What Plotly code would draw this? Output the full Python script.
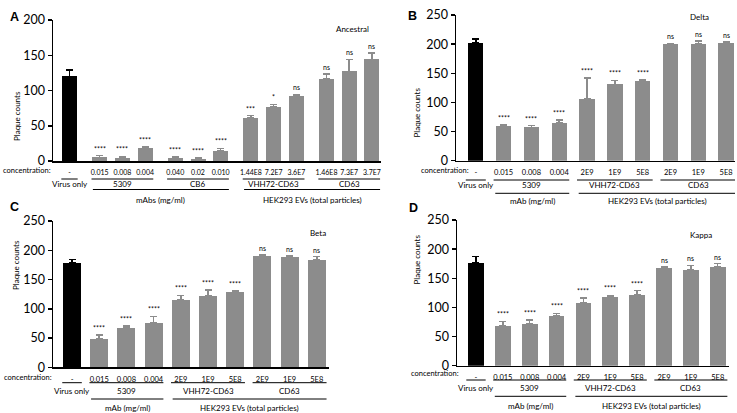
import plotly.graph_objects as go

W, H = 737, 413
FONT = "Lato, Open Sans, sans-serif"
GRAY = "#8c8c8c"

# ---------------- data ----------------
# Panel A (Ancestral)
a_ticks = ["-", "0.015", "0.008", "0.004", "0.040", "0.02", "0.010",
           "1.44E8", "7.2E7", "3.6E7", "1.46E8", "7.3E7", "3.7E7"]
a_member = [0, 1, 1, 1, 2, 2, 2, 3, 3, 3, 4, 4, 4]
a_values = [120, 5, 4.5, 18, 4.5, 3.5, 14.5, 61, 77, 92, 117, 127, 144]
a_errors = [9, 2.5, 2, 2, 1, 1, 3.5, 3.5, 3.5, 2.5, 6.5, 17, 9]
a_sig = ["", "****", "****", "****", "****", "****", "****", "***", "*", "ns", "ns", "ns", "ns"]
a_groups = ["Virus only", "5309", "CB6", "VHH72-CD63", "CD63"]
a_supers = ["mAbs (mg/ml)", "HEK293 EVs (total particles)"]
a_super_members = [[1, 2], [3, 4]]

# shared layout of panels B, C, D
bcd_ticks = ["-", "0.015", "0.008", "0.004", "2E9", "1E9", "5E8", "2E9", "1E9", "5E8"]
bcd_member = [0, 1, 1, 1, 2, 2, 2, 3, 3, 3]
bcd_sig = ["", "****", "****", "****", "****", "****", "****", "ns", "ns", "ns"]
bcd_groups = ["Virus only", "5309", "VHH72-CD63", "CD63"]
bcd_supers = ["mAb (mg/ml)", "HEK293 EVs (total particles)"]
bcd_super_members = [[1], [2, 3]]

# Panel B (Delta)
b_values = [202, 60, 57, 65, 106, 131, 137, 200, 201, 202]
b_errors = [7, 2, 3, 5, 36, 7, 2, 1.5, 4, 2]
# Panel C (Beta)
c_values = [179, 49, 67, 76, 115, 122, 129, 190, 189, 184]
c_errors = [5, 6, 3.5, 11, 8, 10, 1.5, 1.5, 1, 5]
# Panel D (Kappa)
d_values = [177, 68, 72, 86, 108, 118, 122, 168, 164, 169]
d_errors = [10, 8, 6, 4, 8, 2.5, 7, 1.5, 8, 6]

a_yticks = [0, 50, 100, 150, 200]
bcd_yticks = [0, 50, 100, 150, 200, 250]

# ---------------- panel geometry (pixels) ----------------
panels = [
    dict(letter="A", title="Ancestral", ticks=a_ticks, member=a_member, values=a_values,
         errors=a_errors, sig=a_sig, groups=a_groups, supers=a_supers,
         super_members=a_super_members, yticks=a_yticks,
         px_x=(53, 381), px_y=(161, 20), xr=(-0.727, 13.72), gapfrac=0.33, bw=0.66,
         conc=(52, 170.5), line1=179, grp=184.3, line2=189.5, sub=199.5,
         title_xy=(352, 22), letter_xy=(8, 8.5), ytitle_xy=(10, 89), tfs=7),
    dict(letter="B", title="Delta", ticks=bcd_ticks, member=bcd_member, values=b_values,
         errors=b_errors, sig=bcd_sig, groups=bcd_groups, supers=bcd_supers,
         super_members=bcd_super_members, yticks=bcd_yticks,
         px_x=(456, 735), px_y=(160.7, 15), xr=(-0.712, 9.32), gapfrac=0.0, bw=0.55,
         conc=(470, 170.7), line1=180, grp=184.8, line2=193.3, sub=200.5,
         title_xy=(711, 10), letter_xy=(412, 7.5), ytitle_xy=(416.5, 86), tfs=7.5),
    dict(letter="C", title="Beta", ticks=bcd_ticks, member=bcd_member, values=c_values,
         errors=c_errors, sig=bcd_sig, groups=bcd_groups, supers=bcd_supers,
         super_members=bcd_super_members, yticks=bcd_yticks,
         px_x=(53, 329), px_y=(367.3, 221), xr=(-0.70, 9.45), gapfrac=0.0, bw=0.66,
         conc=(53, 377.5), line1=382.7, grp=390.8, line2=399, sub=407.8,
         title_xy=(318, 233), letter_xy=(8, 206.5), ytitle_xy=(9, 292), tfs=7.5),
    dict(letter="D", title="Kappa", ticks=bcd_ticks, member=bcd_member, values=d_values,
         errors=d_errors, sig=bcd_sig, groups=bcd_groups, supers=bcd_supers,
         super_members=bcd_super_members, yticks=bcd_yticks,
         px_x=(457, 729), px_y=(365.7, 220), xr=(-0.707, 9.42), gapfrac=0.0, bw=0.58,
         conc=(460, 373.8), line1=380, grp=387.5, line2=396.3, sub=405.5,
         title_xy=(714, 235), letter_xy=(413, 207.5), ytitle_xy=(416.5, 287), tfs=7.5),
]


def fx(px):
    return px / W


def fy(py):
    return 1 - py / H


fig = go.Figure()
annotations = []
shapes = []
layout = dict(template="none", width=W, height=H, autosize=False,
              margin=dict(l=0, r=0, t=0, b=0, pad=0),
              plot_bgcolor="white", paper_bgcolor="white", showlegend=False,
              font=dict(family=FONT, color="black"), bargap=0)

SMALL = 8

for k, p in enumerate(panels):
    sfx = "" if k == 0 else str(k + 1)
    xa, ya = "x" + sfx, "y" + sfx
    ymax = p["yticks"][-1]
    pos = [i + p["gapfrac"] * g for i, g in enumerate(p["member"])]

    # bars: virus-only (black) and treatments (gray)
    for idx, col in (([0], "black"), (list(range(1, len(pos))), GRAY)):
        fig.add_trace(go.Bar(
            x=[pos[i] for i in idx], y=[p["values"][i] for i in idx],
            width=p["bw"], marker=dict(color=col, line=dict(width=0)),
            error_y=dict(type="data", symmetric=False,
                         array=[p["errors"][i] for i in idx],
                         arrayminus=[0] * len(idx), color=col, thickness=1.5, width=3.5),
            xaxis=xa, yaxis=ya))

    layout["xaxis" + sfx] = dict(
        domain=[fx(p["px_x"][0]), fx(p["px_x"][1])], anchor=ya, range=list(p["xr"]),
        automargin=False, fixedrange=True,
        showline=True, linecolor="black", linewidth=1.5, showgrid=False, zeroline=False,
        tickmode="array", tickvals=pos, ticktext=p["ticks"], tickangle=0,
        ticks="outside", ticklen=4, tickcolor="rgba(0,0,0,0)",
        tickfont=dict(size=p["tfs"], family=FONT, color="black"))
    layout["yaxis" + sfx] = dict(
        domain=[fy(p["px_y"][0]), fy(p["px_y"][1])], anchor=xa, range=[0, ymax],
        automargin=False, fixedrange=True,
        showline=True, linecolor="black", linewidth=1.5, showgrid=False, zeroline=False,
        tickmode="array", tickvals=p["yticks"], ticks="outside", ticklen=4, tickwidth=1.5,
        tickcolor="black", tickfont=dict(size=12.5, family=FONT, color="black"))

    # significance labels
    for i, s in enumerate(p["sig"]):
        if s:
            annotations.append(dict(
                x=pos[i], y=p["values"][i] + p["errors"][i], xref=xa, yref=ya,
                text=s, showarrow=False, yanchor="bottom", yshift=1,
                font=dict(size=7, family=FONT, color="black")))

    # "concentration:" row label
    annotations.append(dict(x=fx(p["conc"][0]), y=fy(p["conc"][1]), xref="paper", yref="paper",
                            text="concentration:", showarrow=False, xanchor="right",
                            yanchor="middle", borderpad=0,
                            font=dict(size=7.5, family=FONT, color="black")))

    # group underlines and labels
    for g, name in enumerate(p["groups"]):
        gp = [pos[i] for i in range(len(pos)) if p["member"][i] == g]
        pad = 0.36
        shapes.append(dict(type="line", xref=xa, yref="paper",
                           x0=gp[0] - pad, x1=gp[-1] + pad,
                           y0=fy(p["line1"]), y1=fy(p["line1"]),
                           line=dict(color="black", width=1)))
        annotations.append(dict(x=(gp[0] + gp[-1]) / 2, y=fy(p["grp"]), xref=xa, yref="paper",
                                text=name, showarrow=False, yanchor="middle", borderpad=0,
                                font=dict(size=SMALL, family=FONT, color="black")))

    # super-group underlines and labels
    for name, mem in zip(p["supers"], p["super_members"]):
        gp = [pos[i] for i in range(len(pos)) if p["member"][i] in mem]
        x0, x1 = gp[0] - 0.3, gp[-1] + 0.36
        shapes.append(dict(type="line", xref=xa, yref="paper", x0=x0, x1=x1,
                           y0=fy(p["line2"]), y1=fy(p["line2"]),
                           line=dict(color="black", width=1)))
        annotations.append(dict(x=(x0 + x1) / 2, y=fy(p["sub"]), xref=xa, yref="paper",
                                text=name, showarrow=False, yanchor="middle", borderpad=0,
                                font=dict(size=SMALL, family=FONT, color="black")))

    # variant title
    annotations.append(dict(x=fx(p["title_xy"][0]), y=fy(p["title_xy"][1]), xref="paper",
                            yref="paper", text=p["title"], showarrow=False,
                            font=dict(size=SMALL, family=FONT, color="black")))
    # panel letter
    annotations.append(dict(x=fx(p["letter_xy"][0]), y=fy(p["letter_xy"][1]), xref="paper",
                            yref="paper", text="<b>" + p["letter"] + "</b>", showarrow=False,
                            font=dict(size=12.5, family="Arial, Liberation Sans, sans-serif",
                                      color="black")))
    # y-axis title
    annotations.append(dict(x=fx(p["ytitle_xy"][0]), y=fy(p["ytitle_xy"][1]), xref="paper",
                            yref="paper", text="Plaque counts", showarrow=False, textangle=-90,
                            font=dict(size=SMALL, family=FONT, color="black")))

layout["annotations"] = annotations
layout["shapes"] = shapes
fig.update_layout(**layout)
fig.write_html("out.html",
               config={"displayModeBar": False, "staticPlot": True},
               post_script="document.body.style.margin='0px';"
                           "document.documentElement.style.overflow='hidden';")
